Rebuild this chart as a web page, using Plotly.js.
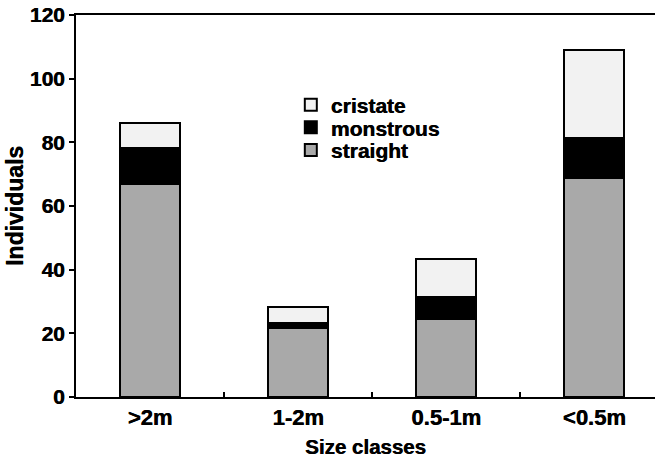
<!DOCTYPE html>
<html><head><meta charset="utf-8">
<script src="https://cdn.plot.ly/plotly-3.0.1.min.js"></script>
<style>html,body{margin:0;padding:0;background:#fff}#c{width:660px;height:461px}</style>
</head><body><div id="c"></div>
<script>
const categories = [">2m", "1-2m", "0.5-1m", "<0.5m"];
const straight = [67, 21.6, 24.5, 68.7];
const monstrous = [11.3, 1.7, 7, 12.6];
const cristate = [7.8, 4.9, 11.8, 27.8];
const yTicks = [0, 20, 40, 60, 80, 100, 120];

const F = "Liberation Sans, Arial, sans-serif";
const SH = "0.5px 0 0 #000";
const font = size => ({family: F, size: size, color: "#000", shadow: SH});
const b = s => "<b>" + s + "</b>";
const esc = s => s.replace(/</g, "&lt;").replace(/>/g, "&gt;");
const line = {color: "#000", width: 2};
const common = {type: "bar", x: categories, width: 0.405};
const traces = [
  Object.assign({}, common, {name: b("straight"), y: straight, legend: "legend3", marker: {color: "#a9a9a9", line: line}}),
  Object.assign({}, common, {name: b("monstrous"), y: monstrous, legend: "legend2", marker: {color: "#000000", line: line}}),
  Object.assign({}, common, {name: b("cristate"), y: cristate, legend: "legend", marker: {color: "#f2f2f2", line: line}})
];
const leg = yy => ({x: 0.371, y: yy, xanchor: "left", yanchor: "middle", font: font(21),
  bgcolor: "rgba(0,0,0,0)", itemwidth: 30});
const layout = {
  width: 660, height: 461,
  margin: {l: 76, r: 5, t: 15, b: 64},
  paper_bgcolor: "#fff", plot_bgcolor: "#fff",
  barmode: "stack",
  showlegend: true,
  legend: leg(0.764), legend2: leg(0.705), legend3: leg(0.646),
  xaxis: {
    type: "category", range: [-0.5, 3.41],
    tickvals: categories, ticktext: categories.map(c => b(esc(c))),
    showline: true, linecolor: "#000", linewidth: 2, mirror: true,
    ticks: "inside", ticklen: 5, tickwidth: 2, tickcolor: "#000", tickson: "boundaries",
    showgrid: false, zeroline: false,
    tickfont: font(22),
    title: {text: b("Size classes"), font: font(20.5), standoff: 10}
  },
  yaxis: {
    range: [0, 120], tickvals: yTicks, ticktext: yTicks.map(v => b(String(v))),
    showline: true, linecolor: "#000", linewidth: 2,
    ticks: "outside", ticklen: 5, tickwidth: 2, tickcolor: "#000",
    showgrid: false, zeroline: false,
    tickfont: font(21),
    title: {text: b("Individuals"), font: font(23), standoff: 0}
  }
};
Plotly.newPlot("c", traces, layout, {displayModeBar: false, staticPlot: true});
</script></body></html>
